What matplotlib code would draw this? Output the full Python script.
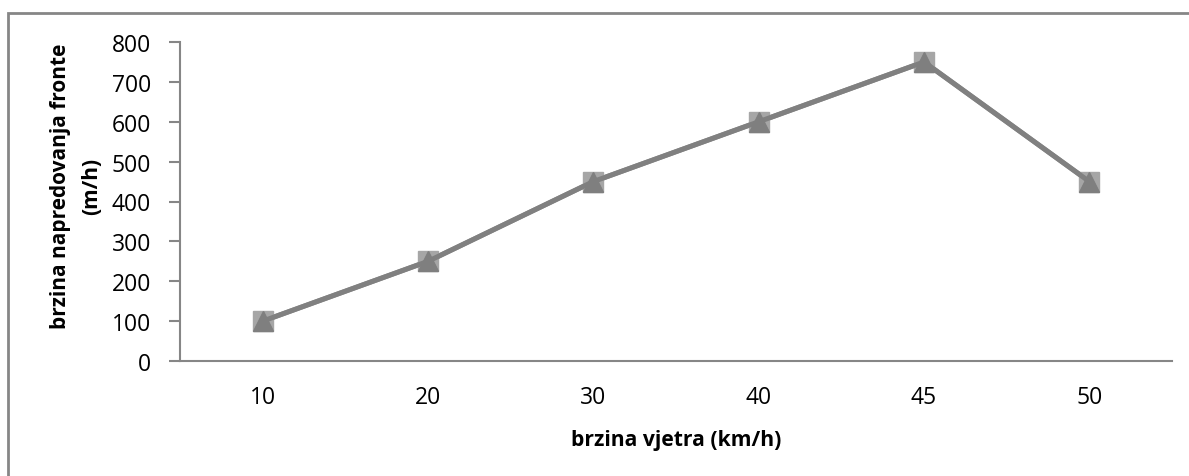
import matplotlib.pyplot as plt
import matplotlib.patches as mpatches
import numpy as np

plt.rcParams['font.family'] = ['Open Sans', 'DejaVu Sans']

# wind speed categories and front advance speed
vjetar = ['10', '20', '30', '40', '45', '50']
brzina_sq = [100, 250, 450, 600, 750, 450]
brzina_tri = [100, 250, 450, 600, 750, 450]

fig = plt.figure(figsize=(11.89, 4.77), dpi=100)
ax = fig.add_axes([180 / 1189, 1 - 362 / 477, (1172 - 180) / 1189, (362 - 43) / 477])

x = np.arange(len(vjetar))
ax.plot(x, brzina_sq, color='#8c8c8c', lw=3.6, marker='s', ms=15,
        mfc='#a6a6a6', mec='#a6a6a6', zorder=3)
ax.plot(x, brzina_tri, color='#808080', lw=3.6, marker='^', ms=15,
        mfc='#7f7f7f', mec='#7f7f7f', zorder=4)

ax.set_xlim(-0.5, len(vjetar) - 0.5)
ax.set_ylim(0, 800)
ax.set_yticks(range(0, 801, 100))
ax.set_xticks(x)
ax.set_xticklabels(vjetar)

for s in ['top', 'right']:
    ax.spines[s].set_visible(False)
for s in ['left', 'bottom']:
    ax.spines[s].set_color('#868686')
    ax.spines[s].set_linewidth(1.5)
ax.tick_params(axis='y', length=8, width=1.5, color='#868686', labelsize=16.5, pad=13)
ax.tick_params(axis='x', length=0, labelsize=16.5, pad=17)

ax.set_xlabel('brzina vjetra (km/h)', fontsize=15.2, fontweight='bold', labelpad=15)
ax.set_ylabel('brzina napredovanja fronte\n(m/h)', fontsize=15, fontweight='bold',
              linespacing=1.6)
ax.yaxis.set_label_coords(-0.079, 0.55)

# outer chart border
fig.patches.append(mpatches.Rectangle((8 / 1189, -0.1), 1.1, 1.1 - 14 / 477,
                                      transform=fig.transFigure, fill=False,
                                      ec='#868686', lw=2))

fig.savefig('out.png', dpi=100)
